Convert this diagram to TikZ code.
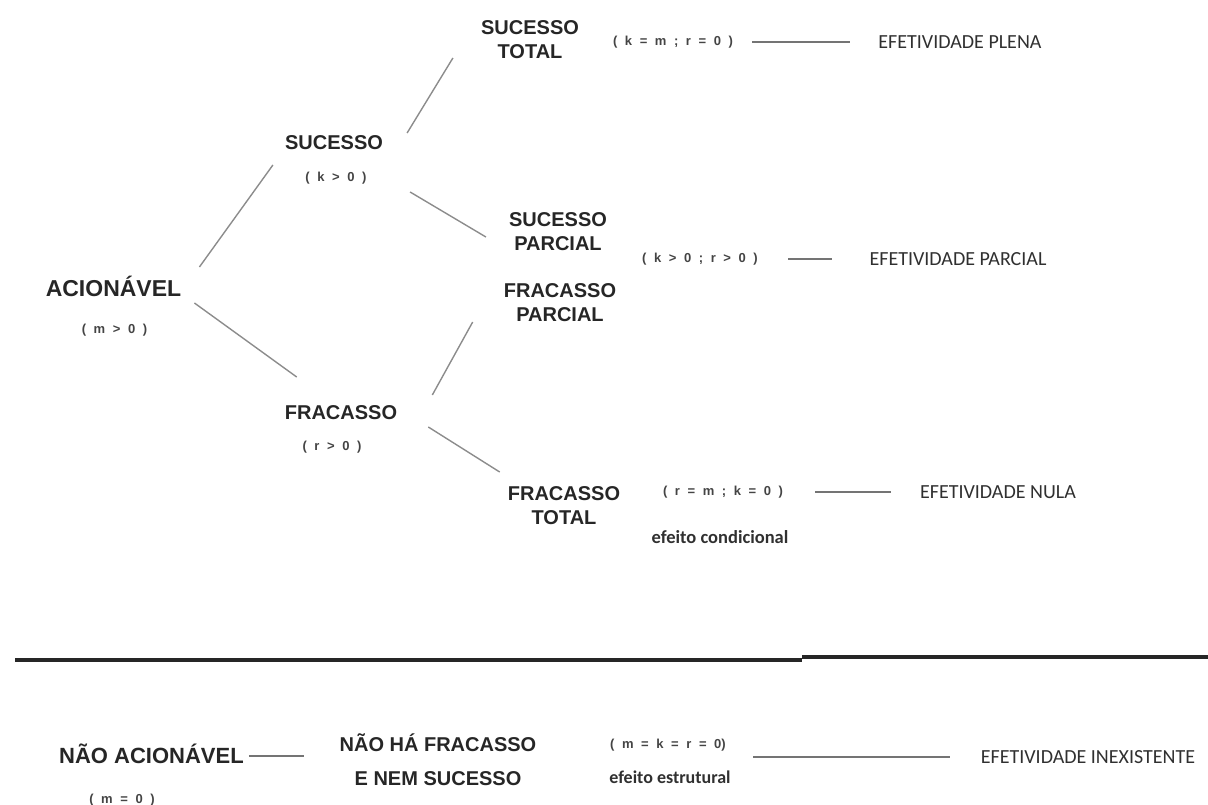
\documentclass[tikz,border=0pt]{standalone}
\usepackage{fontspec}
\setmainfont{Liberation Sans}
\newfontfamily\effont{Carlito}
\newfontfamily\condfont[WordSpace=2.1]{Liberation Sans}
\usetikzlibrary{calc}
\definecolor{labelgray}{HTML}{262626}
\definecolor{condgray}{HTML}{444444}
\definecolor{efgray}{HTML}{303030}
\definecolor{linkgray}{HTML}{8C8C8C}
\definecolor{rulegray}{HTML}{747474}
\begin{document}
\begin{tikzpicture}[x=1pt, y=-1pt,
  bigl/.style={font=\fontsize{23}{27}\selectfont\bfseries, text=labelgray, inner sep=0pt, text height=16.5pt, text depth=0pt},
  midl/.style={font=\fontsize{20}{24}\selectfont\bfseries, text=labelgray, inner sep=0pt, text height=14.3pt, text depth=0pt},
  twol/.style={font=\fontsize{20}{24}\selectfont\bfseries, text=labelgray, inner sep=0pt, align=center},
  cond/.style={font=\condfont\fontsize{13}{15}\selectfont\bfseries, text=condgray, inner sep=0pt, text height=9.5pt, text depth=2.7pt},
  eff/.style={font=\effont\fontsize{20}{24}\selectfont, text=efgray, inner sep=0pt, text height=12.9pt, text depth=0pt},
  efnote/.style={font=\effont\fontsize{18.5}{22}\selectfont\bfseries, text=efgray, inner sep=0pt, text height=13pt, text depth=0pt},
  link/.style={draw=linkgray, line width=1.4pt},
  rule/.style={draw=rulegray, line width=2pt}]
\useasboundingbox (0,0) rectangle (1208,805);
\node[bigl] (acion) at (113.5,288){ACIONÁVEL};
\node[cond] (acioncond) at (114.5,330){( m > 0 )};
\node[midl] (suc) at (334,142){SUCESSO};
\node[cond] (succond) at (336,178){( k > 0 )};
\node[midl] (frac) at (341,412){FRACASSO};
\node[cond] (fraccond) at (332,447){( r > 0 )};
\draw[link] ($(acion.east)+(18,-21)$) -- ($(suc.west)+(-12,23)$);
\draw[link] ($(acion.east)+(13,15)$) -- ($(frac.west)+(12,-35)$);
\node[twol] (suctot) at (530,39.5){SUCESSO\\TOTAL};
\node[twol] (sucpar) at (558,231.5){SUCESSO\\PARCIAL};
\draw[link] ($(suc.east)+(24,-9)$) -- ($(suctot.west)+(-28,18.5)$);
\draw[link] ($(suc.east)+(27,50)$) -- ($(sucpar.west)+(-23,5.5)$);
\node[twol] (fracpar) at (560,302.5){FRACASSO\\PARCIAL};
\node[twol] (fractot) at (564,506){FRACASSO\\TOTAL};
\draw[link] ($(frac.east)+(35,-17)$) -- ($(fracpar.west)+(-31,19.5)$);
\draw[link] ($(frac.east)+(31,15)$) -- ($(fractot.west)+(-8,-34)$);
\node[cond] (totcond) at (673,42){( k = m ; r = 0 )};
\node[eff] (plena) at (960,42){EFETIVIDADE PLENA};
\draw[rule, shorten <=19pt, shorten >=28pt] (totcond.east) -- (plena.west);
\node[cond] (parcond) at (700,259){( k > 0 ; r > 0 )};
\node[eff] (parcial) at (958,259){EFETIVIDADE PARCIAL};
\draw[rule, shorten <=30pt, shorten >=37pt] (parcond.east) -- (parcial.west);
\node[cond] (nulcond) at (723,492){( r = m ; k = 0 )};
\node[eff] (nula) at (998,492){EFETIVIDADE NULA};
\draw[rule, shorten <=32pt, shorten >=29pt] (nulcond.east) -- (nula.west);
\node[efnote] (condic) at (720,537){efeito condicional};
\draw[line width=4pt, draw=labelgray] (15,660) -- (802,660);
\draw[line width=3.5pt, draw=labelgray] (802,657) -- (1208,657);
\node[bigl, font=\fontsize{22}{26}\selectfont\bfseries, text height=15.8pt] (nacion) at (151.5,756){NÃO ACIONÁVEL};
\node[cond] (nacioncond) at (122,800){( m = 0 )};
\node[twol, font=\fontsize{20}{34}\selectfont\bfseries] (nenhum) at (438,760){NÃO HÁ FRACASSO\\E NEM SUCESSO};
\draw[rule, shorten <=5pt, shorten >=35pt] (nacion.east) -- (nacion.east -| nenhum.west);
\node[cond] (inexcond) at (668,745){( m = k = r = 0)};
\node[efnote, font=\effont\fontsize{18}{22}\selectfont\bfseries] (estrut) at (670,777){efeito estrutural};
\node[eff] (inexist) at (1088,757){EFETIVIDADE INEXISTENTE};
\draw[rule, shorten <=27pt, shorten >=31pt] (inexcond.east |- inexist.west) -- (inexist.west);
\end{tikzpicture}
\end{document}
